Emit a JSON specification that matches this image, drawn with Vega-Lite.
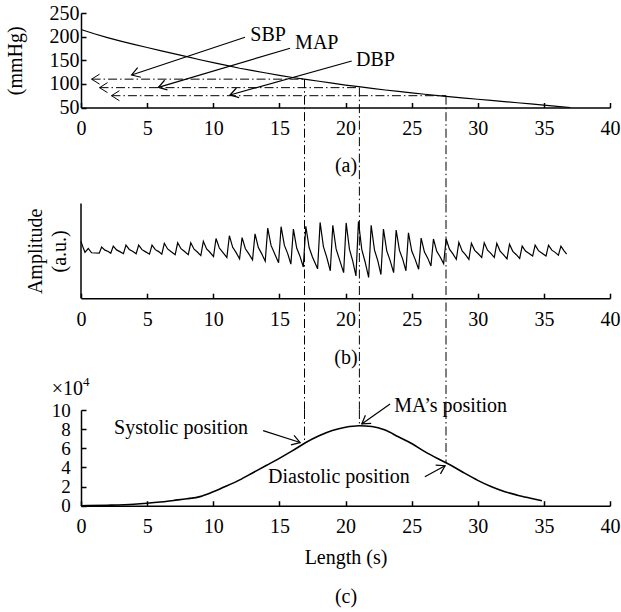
{
  "$schema": "https://vega.github.io/schema/vega-lite/v6.json",
  "background": "white",
  "padding": {"left": 5, "top": 3, "right": 5, "bottom": 5},
  "bounds": "flush",
  "spacing": 95.5,
  "config": {
    "view": {"stroke": null},
    "font": "Liberation Serif",
    "text": {"font": "Liberation Serif", "fontSize": 20, "color": "black"},
    "axis": {
      "grid": false, "domainColor": "black", "tickColor": "black", "labelColor": "black", "titleColor": "black",
      "labelFont": "Liberation Serif", "titleFont": "Liberation Serif", "labelFontSize": 20, "titleFontSize": 20,
      "titleFontWeight": "normal", "domainWidth": 1.5, "tickWidth": 1.5, "tickSize": -5, "labelFlush": false, "labelOverlap": false
    },
    "axisX": {"labelBaseline": "middle", "labelPadding": 26, "titleBaseline": "middle", "titleAlign": "center", "titleX": 264.5},
    "axisY": {"labelAlign": "right", "labelBaseline": "middle", "titleAngle": -90, "titleBaseline": "middle", "titleAlign": "center"}
  },
  "vconcat": [
    {
      "width": 529, "height": 94.5,
      "encoding": {
        "x": {"field": "x", "type": "quantitative", "scale": {"domain": [0, 40], "nice": false, "zero": false},
              "axis": {"values": [0, 5, 10, 15, 20, 25, 30, 35, 40], "title": "(a)", "titleY": 57.5}},
        "y": {"field": "y", "type": "quantitative", "scale": {"domain": [50, 250], "nice": false, "zero": false},
              "axis": {"values": [50, 100, 150, 200, 250], "title": "(mmHg)", "titleX": -66, "titleY": 47.25, "labelPadding": 7}}
      },
      "layer": [
        {
          "data": {"values": [
            {"x": 0, "y": 215}, {"x": 1, "y": 206}, {"x": 2, "y": 198}, {"x": 3, "y": 190.5}, {"x": 4, "y": 183.5},
            {"x": 5, "y": 177}, {"x": 6, "y": 170.5}, {"x": 7, "y": 164}, {"x": 8, "y": 157.5}, {"x": 9, "y": 151},
            {"x": 10, "y": 145}, {"x": 11, "y": 139}, {"x": 12, "y": 133}, {"x": 13, "y": 128}, {"x": 14, "y": 123},
            {"x": 15, "y": 118}, {"x": 16, "y": 113.5}, {"x": 17, "y": 109.5}, {"x": 18, "y": 105.5}, {"x": 19, "y": 101.5},
            {"x": 20, "y": 97.5}, {"x": 21, "y": 94}, {"x": 22, "y": 90.5}, {"x": 23, "y": 87}, {"x": 24, "y": 84},
            {"x": 25, "y": 81}, {"x": 26, "y": 78}, {"x": 27, "y": 75}, {"x": 28, "y": 72.5}, {"x": 29, "y": 70},
            {"x": 30, "y": 67.5}, {"x": 31, "y": 65}, {"x": 32, "y": 62.5}, {"x": 33, "y": 60}, {"x": 34, "y": 57.5},
            {"x": 35, "y": 55}, {"x": 36, "y": 52.5}, {"x": 37, "y": 50}
          ]},
          "mark": {"type": "line", "color": "black", "strokeWidth": 1.2}
        },
        {
          "data": {"values": [
            {"x": 0.8, "x2": 16.9, "y": 110}, {"x": 1.4, "x2": 21.05, "y": 92}, {"x": 2.3, "x2": 27.6, "y": 75}
          ]},
          "mark": {"type": "rule", "color": "black", "strokeWidth": 1, "strokeDash": [9, 3, 1.5, 3]},
          "encoding": {"x2": {"field": "x2"}}
        },
        {
          "data": {"values": [
            {"x": 16.9, "y": 110, "y2": -152.1}, {"x": 21.05, "y": 92, "y2": -152.1}, {"x": 27.6, "y": 75, "y2": -152.1}
          ]},
          "mark": {"type": "rule", "color": "black", "strokeWidth": 1, "strokeDash": [9, 3, 1.5, 3]},
          "encoding": {"y2": {"field": "y2"}}
        },
        {
          "data": {"values": [
            {"x": 12.4, "y": 198.6, "x2": 3.83, "y2": 118.8},
            {"x": 15.81, "y": 175.3, "x2": 5.85, "y2": 92.7},
            {"x": 20.47, "y": 148.4, "x2": 11.27, "y2": 76.5}
          ]},
          "mark": {"type": "rule", "color": "black", "strokeWidth": 1.2},
          "encoding": {"x2": {"field": "x2"}, "y2": {"field": "y2"}}
        },
        {
          "data": {"values": [{"x": 0.8, "y": 110}, {"x": 1.4, "y": 92}, {"x": 2.3, "y": 75}]},
          "mark": {"type": "point", "shape": "M1.6,-1L0,0L1.6,1", "size": 100, "filled": false, "color": "black", "strokeWidth": 1, "opacity": 1, "angle": 0}
        },
        {
          "data": {"values": [{"x": 3.83, "y": 118.8}]},
          "mark": {"type": "point", "shape": "M1.6,-1L0,0L1.6,1", "size": 100, "filled": false, "color": "black", "strokeWidth": 1.2, "opacity": 1, "angle": -18.4}
        },
        {
          "data": {"values": [{"x": 5.85, "y": 92.7}]},
          "mark": {"type": "point", "shape": "M1.6,-1L0,0L1.6,1", "size": 100, "filled": false, "color": "black", "strokeWidth": 1.2, "opacity": 1, "angle": -16.5}
        },
        {
          "data": {"values": [{"x": 11.27, "y": 76.5}]},
          "mark": {"type": "point", "shape": "M1.6,-1L0,0L1.6,1", "size": 100, "filled": false, "color": "black", "strokeWidth": 1.2, "opacity": 1, "angle": -15.6}
        },
        {
          "data": {"values": [
            {"x": 12.8, "y": 203, "t": "SBP"}, {"x": 16.19, "y": 185.9, "t": "MAP"}, {"x": 20.8, "y": 150.5, "t": "DBP"}
          ]},
          "mark": {"type": "text", "align": "left", "baseline": "middle", "fontSize": 20, "font": "Liberation Serif", "color": "black"},
          "encoding": {"text": {"field": "t"}}
        }
      ]
    },
    {
      "width": 529, "height": 110.8,
      "encoding": {
        "x": {"field": "x", "type": "quantitative", "scale": {"domain": [0, 40], "nice": false, "zero": false},
              "axis": {"values": [0, 5, 10, 15, 20, 25, 30, 35, 40], "title": "(b)", "titleY": 59.3, "offset": -16.1}},
        "y": {"field": "y", "type": "quantitative", "scale": {"domain": [-17, 100], "nice": false, "zero": false},
              "axis": {"labels": false, "ticks": false, "domain": false, "title": ["Amplitude", "(a.u.)"], "titleLineHeight": 24, "titleX": -46, "titleY": 47.35}}
      },
      "layer": [
        {
          "data": {"values": [
            {"x": 0, "y": 60}, {"x": 0.12, "y": 55}, {"x": 0.3, "y": 48.5}, {"x": 0.55, "y": 52.5}, {"x": 0.8, "y": 48}, {"x": 1.38, "y": 47.5},
            {"x": 1.56, "y": 54}, {"x": 1.81, "y": 50.75}, {"x": 2.06, "y": 49.3},
            {"x": 2.25, "y": 47.5}, {"x": 2.44, "y": 55}, {"x": 2.69, "y": 51}, {"x": 2.94, "y": 49.2},
            {"x": 3.21, "y": 47}, {"x": 3.4, "y": 56}, {"x": 3.65, "y": 51.5}, {"x": 3.9, "y": 49.5},
            {"x": 4.17, "y": 47}, {"x": 4.36, "y": 56}, {"x": 4.61, "y": 51.25}, {"x": 4.86, "y": 49.2},
            {"x": 5.18, "y": 46.5}, {"x": 5.37, "y": 56}, {"x": 5.62, "y": 51.25}, {"x": 5.87, "y": 49.2},
            {"x": 6.11, "y": 46.5}, {"x": 6.3, "y": 58}, {"x": 6.55, "y": 52}, {"x": 6.8, "y": 49.4},
            {"x": 7.12, "y": 46}, {"x": 7.31, "y": 58.5}, {"x": 7.56, "y": 52.25}, {"x": 7.81, "y": 49.5},
            {"x": 8.11, "y": 46}, {"x": 8.3, "y": 58.5}, {"x": 8.55, "y": 51.75}, {"x": 8.8, "y": 48.8},
            {"x": 9.06, "y": 45}, {"x": 9.25, "y": 60}, {"x": 9.5, "y": 52}, {"x": 9.75, "y": 48.5},
            {"x": 10.02, "y": 44}, {"x": 10.21, "y": 63}, {"x": 10.46, "y": 53}, {"x": 10.71, "y": 48.6},
            {"x": 11.03, "y": 43}, {"x": 11.22, "y": 66}, {"x": 11.47, "y": 53.75}, {"x": 11.72, "y": 48.4},
            {"x": 11.99, "y": 41.5}, {"x": 12.18, "y": 64}, {"x": 12.43, "y": 52.25}, {"x": 12.68, "y": 47.1},
            {"x": 12.97, "y": 40.5}, {"x": 13.16, "y": 68}, {"x": 13.41, "y": 53.5}, {"x": 13.66, "y": 47.1},
            {"x": 13.93, "y": 39}, {"x": 14.12, "y": 74}, {"x": 14.37, "y": 55.75}, {"x": 14.62, "y": 47.7},
            {"x": 14.94, "y": 37.5}, {"x": 15.13, "y": 75.5}, {"x": 15.38, "y": 55.75}, {"x": 15.63, "y": 47.1},
            {"x": 15.87, "y": 36}, {"x": 16.06, "y": 73}, {"x": 16.31, "y": 53}, {"x": 16.56, "y": 44.2},
            {"x": 16.81, "y": 33}, {"x": 17.0, "y": 76}, {"x": 17.25, "y": 53.5}, {"x": 17.5, "y": 43.6},
            {"x": 17.89, "y": 31}, {"x": 18.08, "y": 80}, {"x": 18.33, "y": 54.5}, {"x": 18.58, "y": 43.3},
            {"x": 18.85, "y": 29}, {"x": 19.04, "y": 77}, {"x": 19.29, "y": 52}, {"x": 19.54, "y": 41},
            {"x": 19.86, "y": 27}, {"x": 20.05, "y": 79.5}, {"x": 20.3, "y": 51.5}, {"x": 20.55, "y": 39.2},
            {"x": 20.79, "y": 23.5}, {"x": 20.98, "y": 81}, {"x": 21.23, "y": 51.5}, {"x": 21.48, "y": 38.5},
            {"x": 21.75, "y": 22}, {"x": 21.94, "y": 77}, {"x": 22.19, "y": 51}, {"x": 22.44, "y": 39.6},
            {"x": 22.68, "y": 25}, {"x": 22.87, "y": 73}, {"x": 23.12, "y": 50}, {"x": 23.37, "y": 39.9},
            {"x": 23.64, "y": 27}, {"x": 23.83, "y": 72}, {"x": 24.08, "y": 50.5}, {"x": 24.33, "y": 41},
            {"x": 24.57, "y": 29}, {"x": 24.76, "y": 69}, {"x": 25.01, "y": 49.75}, {"x": 25.26, "y": 41.3},
            {"x": 25.53, "y": 30.5}, {"x": 25.72, "y": 63.5}, {"x": 25.97, "y": 48.75}, {"x": 26.22, "y": 42.3},
            {"x": 26.46, "y": 34}, {"x": 26.65, "y": 62.5}, {"x": 26.9, "y": 49.5}, {"x": 27.15, "y": 43.8},
            {"x": 27.42, "y": 36.5}, {"x": 27.61, "y": 62.5}, {"x": 27.86, "y": 51.75}, {"x": 28.11, "y": 47},
            {"x": 28.38, "y": 41}, {"x": 28.57, "y": 59}, {"x": 28.82, "y": 50}, {"x": 29.07, "y": 46},
            {"x": 29.33, "y": 41}, {"x": 29.52, "y": 58}, {"x": 29.77, "y": 50.5}, {"x": 30.02, "y": 47.2},
            {"x": 30.3, "y": 43}, {"x": 30.49, "y": 58.5}, {"x": 30.74, "y": 50.75}, {"x": 30.99, "y": 47.3},
            {"x": 31.25, "y": 43}, {"x": 31.44, "y": 58}, {"x": 31.69, "y": 49.75}, {"x": 31.94, "y": 46.1},
            {"x": 32.21, "y": 41.5}, {"x": 32.4, "y": 57}, {"x": 32.65, "y": 49.5}, {"x": 32.9, "y": 46.2},
            {"x": 33.17, "y": 42}, {"x": 33.36, "y": 55}, {"x": 33.61, "y": 49.75}, {"x": 33.86, "y": 47.4},
            {"x": 34.15, "y": 44.5}, {"x": 34.34, "y": 56}, {"x": 34.59, "y": 50.25}, {"x": 34.84, "y": 47.7},
            {"x": 35.16, "y": 44.5}, {"x": 35.35, "y": 56}, {"x": 35.6, "y": 50.75}, {"x": 35.85, "y": 48.4},
            {"x": 36.1, "y": 45.5}, {"x": 36.29, "y": 55}, {"x": 36.5, "y": 50.5}, {"x": 36.72, "y": 46.5}
          ]},
          "mark": {"type": "line", "color": "black", "strokeWidth": 1.2}
        },
        {
          "data": {"values": [{"x": 0, "y": 0, "y2": 100}]},
          "mark": {"type": "rule", "color": "black", "strokeWidth": 1.5},
          "encoding": {"y2": {"field": "y2"}}
        },
        {
          "data": {"values": [
            {"x": 16.9, "y": 100, "y2": -117.8}, {"x": 21.05, "y": 100, "y2": -117.8}, {"x": 27.6, "y": 100, "y2": -117.8}
          ]},
          "mark": {"type": "rule", "color": "black", "strokeWidth": 1, "strokeDash": [9, 3, 1.5, 3]},
          "encoding": {"y2": {"field": "y2"}}
        }
      ]
    },
    {
      "width": 529, "height": 95.7,
      "encoding": {
        "x": {"field": "x", "type": "quantitative", "scale": {"domain": [0, 40], "nice": false, "zero": false},
              "axis": {"values": [0, 5, 10, 15, 20, 25, 30, 35, 40], "title": ["Length (s)", "(c)"], "titleLineHeight": 39, "titleY": 52}},
        "y": {"field": "y", "type": "quantitative", "scale": {"domain": [0, 10], "nice": false, "zero": false},
              "axis": {"values": [0, 2, 4, 6, 8, 10], "title": null, "labelPadding": 15.8, "labelFontSize": 19}}
      },
      "layer": [
        {
          "data": {"values": [
            {"x": 0, "y": 0}, {"x": 2, "y": 0.05}, {"x": 4, "y": 0.15}, {"x": 5, "y": 0.25}, {"x": 6, "y": 0.38},
            {"x": 7, "y": 0.55}, {"x": 8, "y": 0.72}, {"x": 9, "y": 0.95}, {"x": 10, "y": 1.45}, {"x": 11, "y": 2.05},
            {"x": 12, "y": 2.7}, {"x": 13, "y": 3.45}, {"x": 14, "y": 4.2}, {"x": 15, "y": 4.95}, {"x": 16, "y": 5.75},
            {"x": 17, "y": 6.6}, {"x": 18, "y": 7.3}, {"x": 19, "y": 7.85}, {"x": 20, "y": 8.2}, {"x": 21, "y": 8.36},
            {"x": 22, "y": 8.28}, {"x": 23, "y": 7.9}, {"x": 24, "y": 7.2}, {"x": 25, "y": 6.5}, {"x": 26, "y": 5.65},
            {"x": 27, "y": 4.9}, {"x": 28, "y": 4.2}, {"x": 29, "y": 3.4}, {"x": 30, "y": 2.65}, {"x": 31, "y": 2.0},
            {"x": 32, "y": 1.48}, {"x": 33, "y": 1.1}, {"x": 34, "y": 0.78}, {"x": 34.85, "y": 0.52}
          ]},
          "mark": {"type": "line", "color": "black", "strokeWidth": 1.6, "interpolate": "monotone"}
        },
        {
          "data": {"values": [
            {"x": 16.9, "y": 10, "y2": 6.6}, {"x": 21.05, "y": 10, "y2": 8.36}, {"x": 27.6, "y": 10, "y2": 4.48}
          ]},
          "mark": {"type": "rule", "color": "black", "strokeWidth": 1, "strokeDash": [9, 3, 1.5, 3]},
          "encoding": {"y2": {"field": "y2"}}
        },
        {
          "data": {"values": [
            {"x": 13.77, "y": 7.84, "x2": 16.57, "y2": 6.6},
            {"x": 23.37, "y": 10.63, "x2": 21.23, "y2": 8.54},
            {"x": 26.0, "y": 3.03, "x2": 27.53, "y2": 4.18}
          ]},
          "mark": {"type": "rule", "color": "black", "strokeWidth": 1.2},
          "encoding": {"x2": {"field": "x2"}, "y2": {"field": "y2"}}
        },
        {
          "data": {"values": [{"x": 16.57, "y": 6.6}]},
          "mark": {"type": "point", "shape": "M1.6,-1L0,0L1.6,1", "size": 100, "filled": false, "color": "black", "strokeWidth": 1.2, "opacity": 1, "angle": -162.2}
        },
        {
          "data": {"values": [{"x": 21.23, "y": 8.54}]},
          "mark": {"type": "point", "shape": "M1.6,-1L0,0L1.6,1", "size": 100, "filled": false, "color": "black", "strokeWidth": 1.2, "opacity": 1, "angle": -35.2}
        },
        {
          "data": {"values": [{"x": 27.53, "y": 4.18}]},
          "mark": {"type": "point", "shape": "M1.6,-1L0,0L1.6,1", "size": 100, "filled": false, "color": "black", "strokeWidth": 1.2, "opacity": 1, "angle": 151.4}
        },
        {
          "data": {"values": [
            {"x": 7.56, "y": 8.15, "t": "Systolic position"},
            {"x": 27.95, "y": 10.45, "t": "MA’s position"},
            {"x": 19.5, "y": 2.96, "t": "Diastolic position"}
          ]},
          "mark": {"type": "text", "align": "center", "baseline": "middle", "fontSize": 20, "font": "Liberation Serif", "color": "black"},
          "encoding": {"text": {"field": "t"}}
        },
        {
          "data": {"values": [{"x": -2.22, "y": 12.2, "t": "×10"}]},
          "mark": {"type": "text", "align": "left", "baseline": "middle", "fontSize": 20, "font": "Liberation Serif", "color": "black"},
          "encoding": {"text": {"field": "t"}}
        },
        {
          "data": {"values": [{"x": 0.15, "y": 12.9, "t": "4"}]},
          "mark": {"type": "text", "align": "left", "baseline": "middle", "fontSize": 13, "font": "Liberation Serif", "color": "black"},
          "encoding": {"text": {"field": "t"}}
        }
      ]
    }
  ]
}
